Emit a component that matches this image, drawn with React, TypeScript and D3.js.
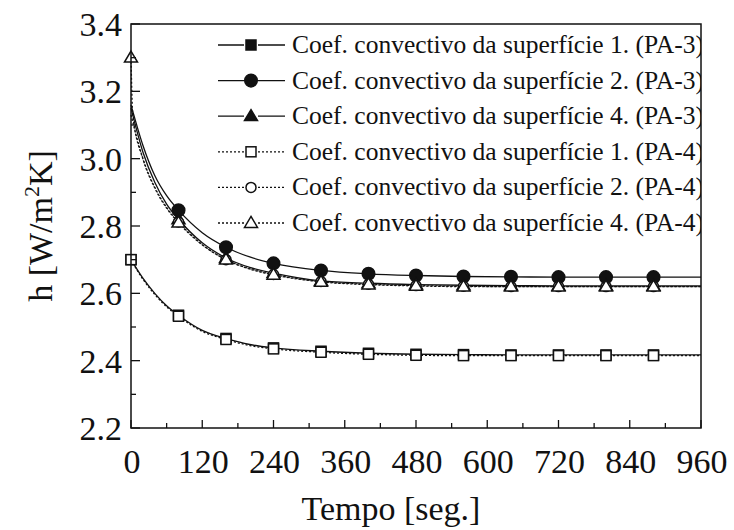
import React from "react";
import * as d3 from "d3";

const times = [0, 20, 40, 60, 80, 120, 160, 200, 240, 320, 400, 480, 560, 640, 720, 800, 880, 960];
const timesTri4 = [0, 3, 20, 40, 60, 80, 120, 160, 200, 240, 320, 400, 480, 560, 640, 720, 800, 880, 960];

const sq3 = [2.70, 2.645, 2.60, 2.563, 2.535, 2.49, 2.466, 2.448, 2.438, 2.428, 2.422, 2.419, 2.418, 2.417, 2.417, 2.417, 2.417, 2.417];
const ci3 = [3.16, 3.04, 2.95, 2.89, 2.847, 2.78, 2.737, 2.708, 2.689, 2.668, 2.658, 2.653, 2.650, 2.649, 2.648, 2.648, 2.648, 2.648];
const tr3 = [3.15, 3.02, 2.93, 2.865, 2.82, 2.75, 2.705, 2.677, 2.66, 2.637, 2.63, 2.626, 2.624, 2.623, 2.622, 2.622, 2.622, 2.622];
const sq4 = [2.70, 2.642, 2.597, 2.56, 2.532, 2.487, 2.463, 2.445, 2.435, 2.425, 2.419, 2.416, 2.415, 2.415, 2.415, 2.415, 2.415, 2.415];
const ci4 = [3.13, 3.00, 2.915, 2.855, 2.812, 2.745, 2.70, 2.673, 2.656, 2.635, 2.627, 2.623, 2.621, 2.620, 2.620, 2.620, 2.620, 2.620];
const tr4 = [3.30, 3.13, 3.00, 2.913, 2.853, 2.81, 2.744, 2.70, 2.672, 2.655, 2.634, 2.626, 2.622, 2.620, 2.620, 2.620, 2.620, 2.620, 2.620];

const markerTimes = [80, 160, 240, 320, 400, 480, 560, 640, 720, 800, 880];
const markerTimesWithZero = [0, 80, 160, 240, 320, 400, 480, 560, 640, 720, 800, 880];

const xTicks = [0, 120, 240, 360, 480, 600, 720, 840, 960];
const yTicks = [2.2, 2.4, 2.6, 2.8, 3.0, 3.2, 3.4];

const legendLabels = [
  "Coef. convectivo da superfície 1. (PA-3)",
  "Coef. convectivo da superfície 2. (PA-3)",
  "Coef. convectivo da superfície 4. (PA-3)",
  "Coef. convectivo da superfície 1. (PA-4)",
  "Coef. convectivo da superfície 2. (PA-4)",
  "Coef. convectivo da superfície 4. (PA-4)",
];

type Shape = "square" | "circle" | "triangle";
interface Series { t: number[]; v: number[]; shape: Shape; filled: boolean; dotted: boolean; mt: number[]; }

const series: Series[] = [
  { t: times, v: sq3, shape: "square", filled: true, dotted: false, mt: markerTimesWithZero },
  { t: times, v: ci3, shape: "circle", filled: true, dotted: false, mt: markerTimes },
  { t: times, v: tr3, shape: "triangle", filled: true, dotted: false, mt: markerTimes },
  { t: times, v: sq4, shape: "square", filled: false, dotted: true, mt: markerTimesWithZero },
  { t: times, v: ci4, shape: "circle", filled: false, dotted: true, mt: markerTimes },
  { t: timesTri4, v: tr4, shape: "triangle", filled: false, dotted: true, mt: markerTimesWithZero },
];

const FONT = "'Liberation Serif', 'Times New Roman', serif";

function Marker({ shape, filled, cx, cy }: { shape: Shape; filled: boolean; cx: number; cy: number }) {
  const fill = filled ? "#111" : "#fff";
  const sw = 1.5;
  if (shape === "square") {
    const s = 10;
    return <rect x={cx - s / 2} y={cy - s / 2} width={s} height={s} fill={fill} stroke="#111" strokeWidth={sw} />;
  }
  if (shape === "circle") {
    return <circle cx={cx} cy={cy} r={filled ? 6.3 : 5} fill={fill} stroke="#111" strokeWidth={sw} />;
  }
  const w = 13, h = 11;
  const p = `M${cx},${cy - h * 0.6} L${cx + w / 2},${cy + h * 0.4} L${cx - w / 2},${cy + h * 0.4} Z`;
  return <path d={p} fill={fill} stroke="#111" strokeWidth={sw} />;
}

export default function App() {
  const W = 734, H = 530;
  const x = d3.scaleLinear().domain([0, 960]).range([131, 701]);
  const y = d3.scaleLinear().domain([2.2, 3.4]).range([428, 24]);
  const line = d3.line<[number, number]>().x(d => x(d[0])).y(d => y(d[1])).curve(d3.curveMonotoneX);

  const xMinor = d3.range(60, 960, 120);
  const yMinor = d3.range(2.3, 3.4, 0.2);

  const valueAt = (s: Series, t: number) => {
    const i = s.t.indexOf(t);
    return i >= 0 ? s.v[i] : s.v[0];
  };

  const legX0 = 218, legX1 = 285, legMid = 251, legText = 292;
  const legRowY = (i: number) => 45 + i * 35.6;

  return (
    <svg width={W} height={H} style={{ position: "absolute", left: 0, top: 0, background: "#fff" }} fontFamily={FONT}>
      <defs>
        <clipPath id="legclip"><rect x={0} y={0} width={701} height={H} /></clipPath>
      </defs>
      <rect width={W} height={H} fill="#fff" />
      {series.map((s, i) => (
        <path key={"l" + i} d={line(s.t.map((t, j) => [t, s.v[j]] as [number, number])) || ""} fill="none"
          stroke="#111" strokeWidth={1.3} strokeDasharray={s.dotted ? "2,2" : undefined} />
      ))}
      {series.map((s, i) => (
        <g key={"m" + i}>
          {s.mt.map(t => <Marker key={t} shape={s.shape} filled={s.filled} cx={x(t)} cy={y(valueAt(s, t))} />)}
        </g>
      ))}
      <rect x={131} y={24} width={570} height={404} fill="none" stroke="#111" strokeWidth={1.5} />
      {xTicks.map(t => (
        <g key={"xt" + t}>
          <line x1={x(t)} x2={x(t)} y1={428} y2={420} stroke="#111" strokeWidth={1.3} />
          <text x={x(t) + 1} y={473} fontSize={34} textAnchor="middle" fill="#111">{t}</text>
        </g>
      ))}
      {xMinor.map(t => <line key={"xm" + t} x1={x(t)} x2={x(t)} y1={428} y2={423} stroke="#111" strokeWidth={1.3} />)}
      {yTicks.map(v => (
        <g key={"yt" + v}>
          <line x1={131} x2={140} y1={y(v)} y2={y(v)} stroke="#111" strokeWidth={1.3} />
          <text x={122} y={y(v) + 12} fontSize={34} textAnchor="end" fill="#111">{v.toFixed(1)}</text>
        </g>
      ))}
      {yMinor.map(v => <line key={"ym" + v} x1={131} x2={136} y1={y(v)} y2={y(v)} stroke="#111" strokeWidth={1.3} />)}
      <text x={391} y={520} fontSize={34} textAnchor="middle" fill="#111">Tempo [seg.]</text>
      <text transform="translate(52,226) rotate(-90)" fontSize={34} textAnchor="middle" fill="#111">
        h [W/m<tspan dy={-13} fontSize={22}>2</tspan><tspan dy={13}>K]</tspan>
      </text>
      {series.map((s, i) => {
        const yy = legRowY(i);
        return (
          <g key={"lg" + i}>
            <line x1={legX0} x2={legX1} y1={yy} y2={yy} stroke="#111" strokeWidth={1.3} strokeDasharray={s.dotted ? "2,2" : undefined} />
            <rect x={legMid - 7} y={yy - 7} width={14} height={14} fill="#fff" />
            <Marker shape={s.shape} filled={s.filled} cx={legMid} cy={yy} />
            <text x={legText} y={yy + 8} fontSize={25.5} fill="#111" clipPath="url(#legclip)">{legendLabels[i]}</text>
          </g>
        );
      })}
    </svg>
  );
}
